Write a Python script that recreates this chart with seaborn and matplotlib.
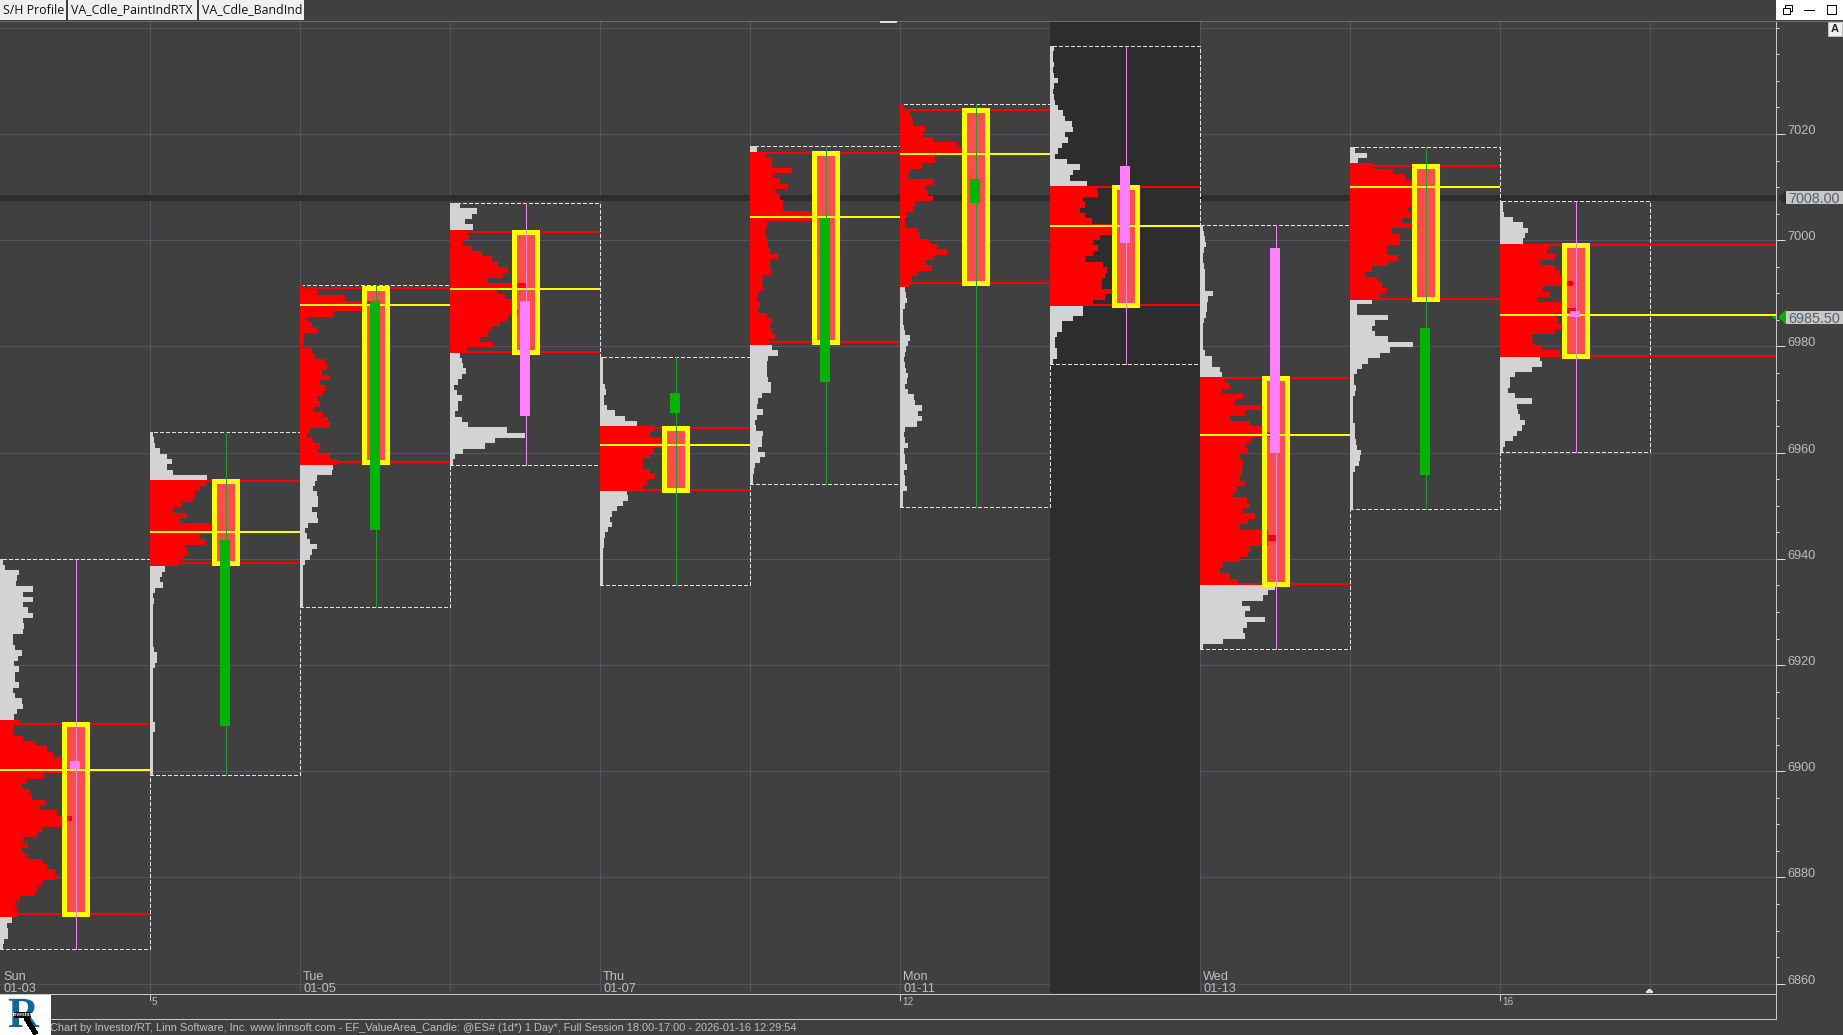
import numpy as np
import pandas as pd
import matplotlib
matplotlib.use('Agg')
import matplotlib.pyplot as plt
from matplotlib.patches import Rectangle, Polygon, PathPatch
from matplotlib.textpath import TextPath
from matplotlib.font_manager import FontProperties
from matplotlib.transforms import Affine2D
import seaborn as sns

# session values (prices)
day_labels = {0: 'Sun\n01-03', 2: 'Tue\n01-05', 4: 'Thu\n01-07', 6: 'Mon\n01-11', 8: 'Wed\n01-13'}
box_top = [6939.9, 6963.87, 6991.6, 7007.0, 6977.95, 7017.7, 7025.6, 7036.65, 7002.8, 7017.5, 7007.4]
box_bot = [6866.45, 6899.24, 6930.85, 6957.75, 6935.0, 6954.05, 6949.7, 6976.65, 6922.95, 6949.3, 6960.15]
vah = [6908.87, 6954.69, 6991.0, 7001.6, 6964.7, 7016.5, 7024.6, 7010.1, 6974.05, 7014.0, 6999.2]
val = [6873.04, 6939.31, 6958.25, 6978.95, 6953.0, 6980.75, 6992.0, 6987.85, 6935.27, 6989.0, 6978.25]
poc = [6900.25, 6945.1, 6987.85, 6990.9, 6961.45, 7004.3, 7016.15, 7002.6, 6963.37, 7010.05, 6986.0]
candle_hi = [6901.93, 6943.5, 6988.5, 6988.5, 6971.25, 7004.1, 7011.55, 7014.0, 6998.55, 6983.5, 6986.65]
candle_lo = [6900.44, 6908.57, 6945.5, 6966.9, 6967.45, 6973.35, 7007.0, 6999.4, 6959.95, 6955.8, 6985.5]
is_up = [False, True, True, False, True, True, True, False, False, True, False]

# volume per row, top row first, one row is about 1 point
p0 = [10, 15, 58, 50, 48, 98, 70, 100, 70, 85, 100, 70, 72, 70, 40, 40, 45, 65, 55, 42, 58, 45, 45, 58, 40, 45, 65,
      70, 50, 42, 60, 42, 40, 70, 108, 140, 160, 195, 185, 205, 130, 80, 65, 90, 95, 135, 120, 170, 215, 185, 125,
      110, 70, 85, 65, 80, 130, 140, 165, 170, 130, 110, 105, 60, 45, 50, 50, 35, 20, 25, 25, 12, 8]
p1 = [8, 12, 15, 30, 50, 65, 50, 70, 170, 170, 150, 135, 130, 95, 70, 110, 90, 185, 190, 150, 165, 105, 115, 100, 85,
      45, 35, 30, 38, 15, 10, 12, 8, 8, 8, 8, 8, 8, 8, 10, 12, 20, 22, 15, 10, 8, 8, 8, 8, 8, 8, 8, 8, 10, 14, 14,
      10, 8, 10, 8, 8, 8, 8, 8]
p2 = [10, 50, 135, 225, 190, 100, 20, 35, 50, 12, 10, 10, 35, 45, 75, 80, 65, 90, 60, 75, 70, 50, 60, 40, 70, 85, 90,
      30, 20, 40, 60, 55, 90, 110, 100, 95, 50, 45, 40, 50, 55, 55, 35, 50, 55, 25, 15, 20, 30, 50, 35, 30, 15, 10,
      10, 8, 8, 8, 8, 8, 8]
p3 = [30, 80, 65, 45, 70, 50, 58, 40, 65, 95, 125, 145, 175, 160, 115, 230, 140, 165, 185, 200, 205, 175, 150, 125,
      115, 90, 130, 50, 30, 35, 40, 48, 35, 25, 12, 22, 35, 25, 25, 15, 35, 55, 170, 225, 135, 105, 40, 15, 8]
p4 = [8, 8, 8, 8, 10, 15, 18, 12, 12, 20, 45, 75, 110, 160, 150, 190, 190, 160, 150, 130, 130, 150, 165, 140, 130,
      80, 85, 70, 50, 35, 30, 35, 25, 15, 12, 12, 10, 8, 8, 8, 8, 8, 8]
p5 = [20, 45, 65, 65, 125, 70, 90, 115, 75, 90, 100, 100, 185, 200, 50, 45, 45, 50, 55, 60, 85, 60, 60, 65, 40, 35,
      40, 25, 20, 30, 25, 50, 65, 60, 65, 75, 60, 65, 85, 55, 50, 50, 52, 55, 62, 62, 35, 25, 20, 38, 20, 15, 18,
      40, 35, 35, 25, 45, 30, 15, 12, 10, 10]
p6 = [8, 30, 35, 40, 75, 70, 100, 170, 190, 105, 105, 65, 30, 25, 100, 75, 85, 100, 45, 40, 20, 15, 15, 50, 60, 90,
      110, 140, 100, 75, 95, 50, 35, 30, 15, 18, 22, 15, 10, 10, 8, 12, 15, 30, 25, 18, 15, 12, 15, 18, 25, 22, 15,
      25, 42, 45, 65, 55, 65, 50, 15, 12, 15, 25, 12, 15, 15, 20, 12, 15, 15, 22, 10, 8, 8]
p7 = [12, 10, 10, 12, 10, 12, 25, 12, 10, 12, 15, 25, 40, 45, 65, 70, 45, 55, 35, 25, 15, 50, 90, 70, 60, 110, 140,
      145, 100, 105, 90, 105, 125, 200, 185, 150, 130, 145, 130, 105, 160, 170, 165, 155, 155, 190, 165, 130, 100,
      100, 70, 35, 35, 20, 15, 15, 20, 22, 8]
p8 = [8, 12, 15, 18, 12, 10, 10, 12, 15, 15, 15, 15, 38, 25, 20, 20, 18, 12, 10, 8, 8, 8, 10, 15, 35, 35, 60, 65, 75,
      90, 65, 130, 105, 185, 135, 90, 150, 200, 210, 155, 135, 145, 120, 130, 125, 125, 120, 135, 110, 100, 140,
      150, 130, 165, 145, 120, 205, 230, 205, 150, 145, 120, 70, 60, 90, 110, 225, 205, 190, 125, 150, 135, 195,
      140, 130, 135, 70, 10]
p9 = [15, 50, 25, 70, 130, 165, 190, 190, 190, 185, 190, 175, 185, 155, 185, 125, 150, 150, 110, 110, 145, 115, 65,
      45, 80, 95, 110, 90, 65, 20, 20, 115, 75, 65, 75, 115, 190, 120, 90, 55, 35, 20, 12, 12, 18, 15, 8, 8, 8, 8,
      8, 15, 15, 15, 18, 20, 33, 30, 28, 15, 8, 8, 8, 8, 8, 8, 8]
p10 = [10, 10, 12, 40, 68, 85, 75, 70, 150, 140, 165, 120, 165, 180, 190, 220, 130, 150, 110, 190, 230, 170, 170,
       185, 165, 95, 100, 125, 180, 120, 125, 95, 45, 30, 30, 25, 45, 95, 50, 55, 60, 75, 65, 50, 40, 15, 10]
profiles = [p0, p1, p2, p3, p4, p5, p6, p7, p8, p9, p10]

major_prices = [6860, 6880, 6900, 6920, 6940, 6960, 6980, 7000, 7020]
minor_prices = [6865, 6870, 6875, 6885, 6890, 6895, 6905, 6910, 6915, 6925, 6930, 6935, 6945, 6950, 6955, 6965, 6970,
                6975, 6985, 6990, 6995, 7005, 7010, 7015, 7025, 7030, 7035, 7040]
ref_price = 7008.0
last_price = 6985.5
footer = ('Chart by Investor/RT, Linn Software, Inc. www.linnsoft.com - EF_ValueArea_Candle: @ES# (1d*) 1 Day*, '
          'Full Session 18:00-17:00 - 2026-01-16 12:29:54')

BG = '#404040'
DARK = '#2d2d2d'
GRID = '#565464'
TXT = '#bebebe'
W = 150  # session width, chart x runs in pixels
AX_R = 1776
Y_MIN, Y_MAX = 6858.25, 7041.1

sns.set_theme(style='dark', rc={'figure.facecolor': BG, 'axes.facecolor': BG, 'grid.color': GRID,
                                'lines.antialiased': False, 'patch.antialiased': False,
                                'lines.solid_capstyle': 'butt'})
plt.rcParams['font.family'] = ['Liberation Sans', 'DejaVu Sans']

fig = plt.figure(figsize=(18.43, 10.35), dpi=100)
ax = fig.add_axes([0, 42 / 1035, AX_R / 1843, 971 / 1035])

n = len(box_top)
left = np.arange(n) * W
mid = left + 75.5

ax.axvspan(7 * W, 8 * W, color=DARK, lw=0, zorder=1)
ax.axhline(ref_price, color=DARK, lw=3, zorder=1.5)
ax.axhline(7040, color=GRID, lw=0.7, zorder=0.5)

# dashed session boxes
ax.bar(left, np.array(box_top) - np.array(box_bot), bottom=box_bot, width=W, align='edge', fill=False,
       edgecolor='#e4e4e4', linewidth=0.8, linestyle=(0, (2.8, 2.4)), zorder=2)

# value area fill goes under the profile
ax.bar(mid, np.array(vah) - np.array(val), bottom=val, width=23.5, color='#ff4d4d', linewidth=0, zorder=2.5)

for i, prof in enumerate(profiles):
    edges = np.linspace(box_top[i], box_bot[i], len(prof) + 1)
    centres = (edges[:-1] + edges[1:]) / 2
    colors = ['#ff0000' if val[i] - 0.5 <= c <= vah[i] + 0.5 else '#d3d3d3' for c in centres]
    ax.barh(centres, np.array(prof) / 3, left=left[i], height=abs(edges[1] - edges[0]) * 1.02, color=colors,
            linewidth=0, zorder=3)


def level_frame(values):
    rows = []
    for i, v in enumerate(values):
        right = AX_R if i == n - 1 else left[i] + W
        rows += [(i, left[i], v), (i, right, v)]
    return pd.DataFrame(rows, columns=['session', 'x', 'price'])


for values, col in [(vah, '#ff0000'), (val, '#ff0000'), (poc, '#ffff00')]:
    sns.lineplot(data=level_frame(values), x='x', y='price', units='session', estimator=None, color=col,
                 linewidth=1.44, legend=False, ax=ax, zorder=4)

ax.bar(mid, np.array(vah) - np.array(val), bottom=val, width=23.5, fill=False, edgecolor='#ffff00', linewidth=2.2,
       zorder=5)

# wicks run the whole session range, candle bodies on top
up = np.array(is_up)
wicks = pd.DataFrame({'session': np.repeat(np.arange(n), 2),
                      'x': np.repeat(mid, 2),
                      'price': np.column_stack([box_top, box_bot]).ravel(),
                      'kind': np.repeat(np.where(up, 'up', 'down'), 2)})
sns.lineplot(data=wicks, x='x', y='price', hue='kind', palette={'up': '#2a9a2a', 'down': '#ee88ee'}, units='session',
             estimator=None, sort=False, linewidth=0.72, legend=False, ax=ax, zorder=6)
ax.bar(mid - 0.5, np.array(candle_hi) - np.array(candle_lo), bottom=candle_lo, width=10,
       color=np.where(up, '#00b400', '#ff80ff'), linewidth=0, zorder=7)

ax.set_xlim(0, AX_R)
ax.set_ylim(Y_MIN, Y_MAX)
ax.set_xlabel('')
ax.set_ylabel('')
ax.set_xticks(np.arange(1, 12) * W)
ax.tick_params(axis='x', length=0, labelbottom=False)
ax.yaxis.tick_right()
ax.set_yticks(major_prices)
ax.set_yticks(minor_prices, minor=True)
ax.set_yticklabels([str(p) for p in major_prices])
ax.tick_params(axis='y', which='major', length=6.7, width=0.72, color='#dcdcdc', labelcolor=TXT, labelsize=9.2,
               pad=1.2, right=True, left=False)
ax.tick_params(axis='y', which='minor', length=2.4, width=0.72, color='#dcdcdc', right=True, left=False)
for t in ax.yaxis.get_major_ticks():
    t.label2.set_va('baseline')
ax.grid(True, which='major', color=GRID, linewidth=0.7, zorder=0.5)
ax.set_axisbelow(True)
for side in ['top', 'left', 'bottom']:
    ax.spines[side].set_visible(False)
ax.spines['right'].set_color('#c8c8c8')
ax.spines['right'].set_linewidth(0.72)

for i, label in day_labels.items():
    ax.text(left[i] + 3, Y_MIN - 0.35, label, color=TXT, fontsize=9.2, ha='left', va='bottom', linespacing=0.95,
            zorder=8)

# window chrome drawn in pixel coordinates
ov = fig.add_axes([0, 0, 1, 1], facecolor='none')
ov.set_xlim(0, 1843)
ov.set_ylim(1035, 0)
ov.axis('off')


def box(x0, y0, x1, y1, **kw):
    ov.add_patch(Rectangle((x0, y0), x1 - x0, y1 - y0, **kw))


ov.plot([0, 1843], [20.5, 20.5], color='#6a6a6a', lw=0.7)
for x0, x1, tab in [(0, 66, 'S/H Profile'), (68, 197, 'VA_Cdle_PaintIndRTX'), (199, 304, 'VA_Cdle_BandInd')]:
    box(x0, 0, x1, 20, facecolor='#f0f0f0', edgecolor='none')
    ov.text(x0 + 3, 10, tab, color='#111111', fontsize=8.9, family='Open Sans', va='center', ha='left')
box(1776, 0, 1843, 20, facecolor='white', edgecolor='none')
box(1785, 5, 1792, 11, facecolor='none', edgecolor='black', lw=0.7, antialiased=True)
box(1783, 7.5, 1790, 13.5, facecolor='white', edgecolor='black', lw=0.7, antialiased=True)
ov.plot([1804, 1814], [9.5, 9.5], color='black', lw=0.7)
box(1826.5, 4.5, 1835.5, 13.5, facecolor='white', edgecolor='black', lw=0.7, antialiased=True)
box(1828, 22, 1842, 36, facecolor='#f0f0f0', edgecolor='#bbbbbb', lw=0.6)
ov.text(1835, 29.5, 'A', color='#223', fontsize=8, fontweight='bold', ha='center', va='center')
ov.plot([880, 897], [22, 22], color='#e0e0e0', lw=1.2)

for price, ytag, tip in [(ref_price, 197.7, DARK), (last_price, 317.2, '#00b400')]:
    ov.add_patch(Polygon([(1786, ytag - 6.5), (1786, ytag + 6.5), (1779, ytag)], facecolor=tip, edgecolor='none'))
    box(1786, ytag - 6.5, 1843, ytag + 6.5, facecolor='#c8c8c8', edgecolor='none')
    ov.text(1788, ytag, f'{price:.2f}', color='#55606e', fontsize=10.4, va='center_baseline', ha='left')
ov.add_patch(Polygon([(1772, 316), (1776, 316), (1776, 319)], facecolor='#00b400', edgecolor='none'))

ov.plot([0, 1776], [993.5, 993.5], color='#c8c8c8', lw=0.7)
ov.plot([51, 1776], [1018.5, 1018.5], color='#c8c8c8', lw=0.7)
ov.plot([1776, 1776], [993, 1019], color='#c8c8c8', lw=0.7)
for x0, lab in [(150, '5'), (900, '12'), (1500, '16')]:
    ov.plot([x0, x0], [994, 1000], color='#c8c8c8', lw=0.7)
    ov.text(x0 + 2, 1002, lab, color=TXT, fontsize=7.2, va='center', ha='left')
ov.add_patch(Polygon([(1646, 993), (1653, 993), (1649.5, 989)], facecolor='#e0e0e0', edgecolor='none'))

ov.text(50.5, 1028, footer, color=TXT, fontsize=7.9, va='center', ha='left')

# logo mark
box(0, 994, 51, 1035, facecolor='white', edgecolor='none')
r_path = TextPath((0, 0), 'R', size=43, prop=FontProperties(family='Liberation Serif', weight='bold'))
ov.add_patch(PathPatch(r_path, transform=Affine2D().scale(1, -1).translate(8, 1027) + ov.transData,
                       facecolor='#12669a', edgecolor='none', antialiased=True))
ov.plot([14, 31], [1015, 1015], color='black', lw=3)
ov.text(22.5, 1015, 'Investor', color='white', fontsize=3.6, ha='center', va='center', fontweight='bold')
ov.plot([26, 36], [1018, 1034], color='black', lw=3)

fig.savefig('out.png', dpi=100, facecolor=BG)
